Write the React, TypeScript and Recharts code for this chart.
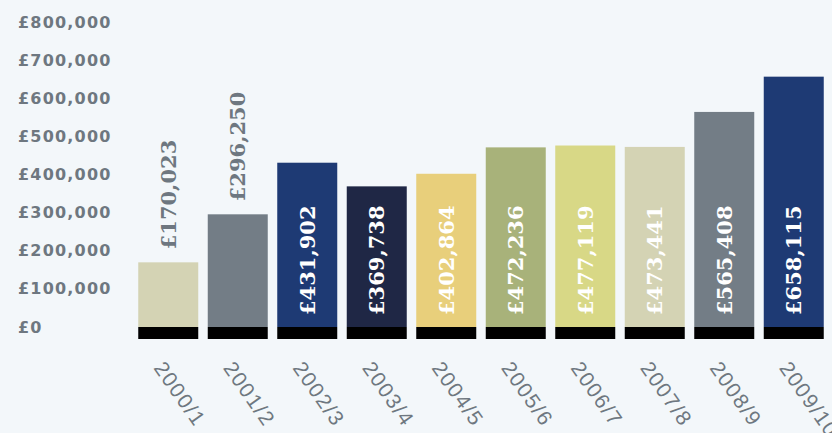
import React from 'react';
import { BarChart, Bar, XAxis, YAxis, Cell, LabelList } from 'recharts';

const years = ['2000/1', '2001/2', '2002/3', '2003/4', '2004/5', '2005/6', '2006/7', '2007/8', '2008/9', '2009/10'];
const amounts = [170023, 296250, 431902, 369738, 402864, 472236, 477119, 473441, 565408, 658115];
const barColours = ['#d4d3b4', '#737d86', '#1e3a74', '#1f2745', '#e8cf7b', '#a8b27a', '#d8d886', '#d4d3b4', '#737d86', '#1e3a74'];
const yTicks = [0, 100000, 200000, 300000, 400000, 500000, 600000, 700000, 800000];

const data = years.map((year, i) => ({ year, amount: amounts[i] }));

const GREY = '#6e7780';
const money = (v: number) => '£' + v.toLocaleString('en-GB');

// bar with a black foot under the zero line
const FootedBar = (props: any) => {
  const { x, y, width, height, fill } = props;
  return (
    <g>
      <rect x={x} y={y} width={width} height={height} fill={fill} />
      <rect x={x} y={y + height} width={width} height={12} fill="#000" />
    </g>
  );
};

const ValueLabel = (props: any) => {
  const { x, y, width, height, value } = props;
  const cx = x + width / 2;
  const inside = height > 125;
  const base = inside ? y + height - 12 : y - 13;
  return (
    <text
      transform={`translate(${cx}, ${base}) rotate(-90)`}
      textAnchor="start"
      dominantBaseline="central"
      fill={inside ? '#fff' : GREY}
      fontFamily="'DejaVu Serif', serif"
      fontWeight="bold"
      fontSize={21}
    >
      {money(value)}
    </text>
  );
};

const YTick = (props: any) => {
  const { y, payload } = props;
  return (
    <text x={18} y={y} dominantBaseline="central" fill={GREY}
      fontFamily="'DejaVu Sans', sans-serif" fontWeight="bold" fontSize={16} letterSpacing={1.2}>
      {money(payload.value)}
    </text>
  );
};

const XTick = (props: any) => {
  const { x, y, payload } = props;
  return (
    <text transform={`translate(${x - 15}, ${y + 41}) rotate(55)`} fill={GREY}
      fontFamily="'Liberation Sans', Arial, sans-serif" fontSize={21} letterSpacing={1.5}>
      {payload.value}
    </text>
  );
};

export default function App() {
  return (
    <div style={{ position: 'absolute', left: 0, top: 0, width: 832, height: 433, overflow: 'hidden', background: '#f3f7fa' }}>
      <BarChart width={832} height={433} data={data} margin={{ top: 22.7, right: 3.75, left: 0, bottom: 0 }}>
        <XAxis dataKey="year" height={106} tick={<XTick />} tickLine={false} axisLine={false} tickSize={0} tickMargin={0} interval={0} />
        <YAxis width={133.25} domain={[0, 800000]} ticks={yTicks} tick={<YTick />} tickLine={false} axisLine={false} />
        <Bar dataKey="amount" barSize={60} shape={<FootedBar />} isAnimationActive={false}>
          {data.map((d, i) => (
            <Cell key={d.year} fill={barColours[i]} />
          ))}
          <LabelList dataKey="amount" content={<ValueLabel />} />
        </Bar>
      </BarChart>
    </div>
  );
}
